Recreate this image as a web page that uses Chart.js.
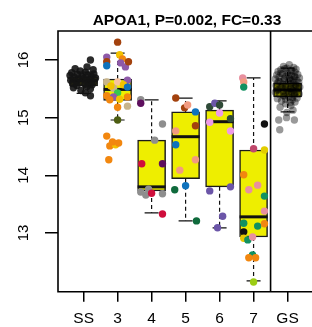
<!DOCTYPE html>
<html lang="en">
<head>
<meta charset="UTF-8">
<title>APOA1</title>
<style>
  body { margin: 0; background: #fff; }
  #wrap { width: 312px; height: 327px; }
</style>
</head>
<body>
<div id="wrap"><canvas id="myChart" width="312" height="327"></canvas></div>
<script src="https://cdnjs.cloudflare.com/ajax/libs/Chart.js/4.4.1/chart.umd.js"></script>
<script>
// groups along the x axis
var groupLabels = ['SS', '3', '4', '5', '6', '7', 'GS'];
var groupPos = [0, 1, 2, 3, 4, 5, 6];
var yTicks = [13, 14, 15, 16];

// box statistics per group
var whiskLow = [15.42, 14.96, 13.35, 13.21, 13.09, 12.17, 15.10];
var q1 = [15.55, 15.30, 13.73, 13.94, 13.80, 12.93, 15.36];
var median = [15.64, 15.49, 13.80, 14.67, 14.93, 13.28, 15.48];
var q3 = [15.71, 15.67, 14.61, 15.10, 15.13, 14.44, 15.60];
var whiskHigh = [15.79, 16.12, 15.31, 15.34, 15.29, 15.69, 15.86];

// individual samples (value + horizontal jitter in group units)
var ssValues = [16.00, 15.88, 15.85, 15.83, 15.81, 15.79, 15.78, 15.76, 15.75, 15.74, 15.73, 15.72, 15.71, 15.70, 15.69, 15.68, 15.67,
  15.66, 15.65, 15.64, 15.63, 15.62, 15.61, 15.60, 15.59, 15.58, 15.57, 15.56, 15.54, 15.52, 15.50, 15.47, 15.43, 15.38];
var ssJitter = [0.2, 0.1, -0.25, 0.28, -0.1, 0.05, -0.35, 0.3, -0.18, 0.12, -0.4, 0.22, -0.05, -0.28, 0.35, 0.0, -0.15,
  0.18, -0.38, 0.08, -0.22, 0.3, -0.1, 0.15, -0.32, 0.04, 0.25, -0.2, 0.1, -0.3, 0.2, -0.08, 0.05, 0.2];

var g3Values = [16.31, 16.09, 16.02, 16.05, 15.97, 15.90, 15.95, 15.88, 15.97, 15.62, 15.62, 15.65, 15.51, 15.55, 15.57, 15.53,
  15.43, 15.38, 15.36, 15.36, 15.32, 15.31, 15.18, 15.20, 14.96, 14.68, 14.51, 14.53, 14.56, 14.58, 14.27];
var g3Jitter = [0, 0.06, 0.14, -0.32, -0.32, -0.32, 0.09, 0.23, 0.32, -0.32, 0, 0.29, -0.12, -0.2, 0.17, 0.29,
  0, -0.32, -0.12, 0.29, 0.06, -0.23, 0, 0.29, 0, -0.32, -0.23, -0.06, 0.03, -0.15, -0.26];

var g4Values = [15.31, 15.25, 14.89, 14.61, 14.20, 14.20, 13.71, 13.76, 13.66, 13.69, 13.68, 13.33];
var g4Jitter = [-0.32, -0.32, 0.32, 0.09, -0.29, 0.32, -0.32, -0.09, -0.17, 0, 0.32, 0.32];

var g5Values = [15.34, 15.17, 15.22, 15.10, 14.86, 14.77, 14.53, 14.27, 14.09, 13.75, 13.82, 13.21];
var g5Jitter = [-0.29, -0.03, 0.06, 0.29, 0.29, -0.29, -0.29, 0.29, -0.17, -0.32, 0, 0.32];

var g6Values = [15.19, 15.25, 15.22, 15.08, 14.92, 14.98, 14.77, 13.80, 13.73, 13.29, 13.09];
var g6Jitter = [-0.29, -0.14, 0, 0, -0.29, 0.32, 0.32, 0.32, -0.29, 0.09, -0.06];

var g7Values = [15.69, 15.62, 15.53, 14.89, 14.46, 14.44, 14.01, 13.75, 13.83, 13.64, 13.38, 13.17, 13.12, 13.16, 13.02, 12.91,
  12.88, 12.93, 12.62, 12.57, 12.57, 12.15];
var g7Jitter = [-0.32, -0.29, -0.29, 0.32, 0, 0.32, -0.29, -0.14, 0.12, 0.32, 0.32, -0.29, 0.12, 0.32, -0.29, -0.29,
  -0.17, -0.03, -0.03, -0.14, 0.06, 0];

var gsValues = [15.92, 15.89, 15.87, 15.86, 15.84, 15.83, 15.81, 15.80, 15.79, 15.78,
  15.76, 15.75, 15.74, 15.73, 15.72, 15.71, 15.70, 15.69, 15.68, 15.67,
  15.66, 15.65, 15.64, 15.63, 15.62, 15.61, 15.60, 15.59, 15.58, 15.57,
  15.56, 15.55, 15.54, 15.53, 15.52, 15.51, 15.50, 15.49, 15.48, 15.47,
  15.46, 15.45, 15.44, 15.43, 15.42, 15.41, 15.40, 15.39, 15.37, 15.36,
  15.34, 15.33, 15.31, 15.29, 15.27, 15.24, 15.21, 15.18, 15.13, 15.09,
  14.96, 15.00, 14.96, 14.79,
  15.85, 15.82, 15.77, 15.74, 15.71, 15.68, 15.65, 15.63, 15.61, 15.58,
  15.55, 15.53, 15.50, 15.47, 15.45, 15.42, 15.39, 15.35, 15.32, 15.26];
var gsJitter = [0.05, -0.12, 0.18, -0.02, 0.25, -0.2, 0.1, -0.28, 0.22, 0.0,
  -0.15, 0.3, -0.32, 0.12, -0.05, 0.2, -0.25, 0.35, 0.06, -0.36,
  0.15, -0.1, 0.28, -0.22, 0.02, 0.33, -0.3, 0.1, -0.14, 0.24,
  -0.34, 0.18, -0.06, 0.36, -0.2, 0.08, 0.3, -0.28, 0.0, 0.16,
  -0.12, 0.26, -0.36, 0.12, -0.04, 0.34, -0.24, 0.2, -0.1, 0.04,
  0.28, -0.3, 0.14, -0.18, 0.22, -0.06, 0.1, -0.22, 0.16, -0.02,
  -0.26, -0.03, 0.2, -0.23,
  -0.08, 0.12, -0.2, 0.02, 0.22, -0.1, 0.08, -0.26, 0.18, -0.04,
  0.26, -0.16, 0.1, -0.3, 0.04, 0.2, -0.12, 0.14, -0.06, 0.08];

// colours
var brown = '#a3420e', gold = '#f3c200', orange = '#f2870f', purple = '#8e5aa8', blue = '#0f72bc', tan = '#c8b48a',
  peach = '#f8c49c', green = '#35c94f', olive = '#4d5e12', crimson = '#cf0e3c', dpurple = '#5e0f5e', gray = '#8e8e8e',
  salmon = '#f29a80', dgreen = '#0f6a3c', violet = '#ee9ae6', slate = '#6b55a8', dslate = '#2f4a38', pink = '#e8909f',
  rose = '#c0486c', teal = '#119160', gold2 = '#e2cd00', black = '#111111', yellow = '#e6c800', ygreen = '#9ccc14';

var ssColor = 'rgba(20,20,20,0.9)';
var gsColor = 'rgba(0,0,0,0.4)';
var g3Colors = [brown, gold, orange, purple, brown, blue, purple, purple, brown, tan, peach, purple, tan, gold, gold, blue,
  green, orange, purple, orange, gold, orange, orange, tan, olive, orange, orange, gold, orange, orange, orange];
var g4Colors = [gray, dpurple, gray, gray, crimson, dpurple, gray, gray, gray, crimson, gray, crimson];
var g5Colors = [brown, brown, salmon, blue, brown, salmon, blue, salmon, salmon, dgreen, blue, dgreen];
var g6Colors = [dslate, slate, dslate, violet, violet, dslate, violet, slate, slate, slate, slate];
var g7Colors = [pink, salmon, teal, black, rose, gold2, orange, pink, pink, teal, pink, teal, teal, orange, black, yellow,
  teal, pink, teal, orange, orange, ygreen];

function pts(pos, values, jitter) {
  return values.map(function (v, k) { return { x: pos + jitter[k], y: v }; });
}

function scatterSet(pos, values, jitter, colors) {
  return {
    type: 'scatter',
    order: 1,
    data: pts(pos, values, jitter),
    backgroundColor: colors,
    pointBackgroundColor: colors,
    pointBorderWidth: 0,
    pointRadius: 3.7,
    pointHoverRadius: 3.7
  };
}

// whiskers, caps and medians, drawn right after the boxes
var boxParts = {
  id: 'boxParts',
  afterDatasetDraw: function (chart, args) {
    if (args.index !== 0) return;
    var ctx = chart.ctx, xs = chart.scales.x, ys = chart.scales.y;
    ctx.save();
    groupPos.forEach(function (g, i) {
      var px = xs.getPixelForValue(g);
      var yLo = ys.getPixelForValue(whiskLow[i]), yHi = ys.getPixelForValue(whiskHigh[i]);
      var yQ1 = ys.getPixelForValue(q1[i]), yQ3 = ys.getPixelForValue(q3[i]);
      ctx.strokeStyle = '#111';
      ctx.lineWidth = 1.2;
      ctx.setLineDash([4, 3]);
      ctx.beginPath();
      ctx.moveTo(px, yQ3); ctx.lineTo(px, yHi);
      ctx.moveTo(px, yQ1); ctx.lineTo(px, yLo);
      ctx.stroke();
      ctx.setLineDash([]);
      ctx.beginPath();
      ctx.moveTo(px - 7, yHi); ctx.lineTo(px + 7, yHi);
      ctx.moveTo(px - 7, yLo); ctx.lineTo(px + 7, yLo);
      ctx.stroke();
      var ym = ys.getPixelForValue(median[i]);
      ctx.lineWidth = 3;
      ctx.beginPath();
      ctx.moveTo(px - 14, ym); ctx.lineTo(px + 14, ym);
      ctx.stroke();
    });
    ctx.restore();
  }
};

// frame, separator, rotated y labels and title
var frame = {
  id: 'frame',
  afterDraw: function (chart) {
    var ctx = chart.ctx, a = chart.chartArea, xs = chart.scales.x, ys = chart.scales.y;
    ctx.save();
    ctx.strokeStyle = '#000';
    ctx.lineWidth = 1.6;
    ctx.beginPath();
    ctx.moveTo(chart.width + 2, a.top); ctx.lineTo(a.left, a.top);
    ctx.lineTo(a.left, a.bottom); ctx.lineTo(chart.width + 2, a.bottom);
    var sep = xs.getPixelForValue(5.5);
    ctx.moveTo(sep, a.top); ctx.lineTo(sep, a.bottom);
    ctx.stroke();

    ctx.fillStyle = '#000';
    ctx.font = '15px "Liberation Sans", Arial, sans-serif';
    ctx.textAlign = 'center';
    ctx.textBaseline = 'alphabetic';
    yTicks.forEach(function (v) {
      ctx.save();
      ctx.translate(27.5, ys.getPixelForValue(v));
      ctx.rotate(-Math.PI / 2);
      ctx.fillText(String(v), 0, 0);
      ctx.restore();
    });

    ctx.font = 'bold 15.5px "Liberation Sans", Arial, sans-serif';
    ctx.fillText('APOA1, P=0.002, FC=0.33', 187, 25);
    ctx.restore();
  }
};

document.addEventListener('DOMContentLoaded', function () {
  var ctx = document.getElementById('myChart').getContext('2d');
  new Chart(ctx, {
    type: 'scatter',
    data: {
      datasets: [
        {
          type: 'bar',
          order: 10,
          data: groupPos.map(function (g, i) { return { x: g, y: [q1[i], q3[i]] }; }),
          backgroundColor: '#eeee00',
          borderColor: '#1a1a1a',
          borderWidth: 1.5,
          borderSkipped: false,
          barThickness: 28
        },
        scatterSet(0, ssValues, ssJitter, ssColor),
        scatterSet(1, g3Values, g3Jitter, g3Colors),
        scatterSet(2, g4Values, g4Jitter, g4Colors),
        scatterSet(3, g5Values, g5Jitter, g5Colors),
        scatterSet(4, g6Values, g6Jitter, g6Colors),
        scatterSet(5, g7Values, g7Jitter, g7Colors),
        scatterSet(6, gsValues, gsJitter, gsColor)
      ]
    },
    options: {
      responsive: false,
      animation: false,
      layout: { padding: { left: 45, top: 31, right: 0, bottom: 0 } },
      plugins: { legend: { display: false }, tooltip: { enabled: false }, title: { display: false } },
      scales: {
        x: {
          type: 'linear',
          offset: false,
          min: -0.754,
          max: 6.61,
          afterBuildTicks: function (s) { s.ticks = groupPos.map(function (v) { return { value: v }; }); },
          afterFit: function (s) { s.height = 35.3; },
          border: { display: false },
          grid: { offset: false, drawOnChartArea: false, drawTicks: true, tickLength: 10, color: '#000', lineWidth: 1.5 },
          ticks: {
            autoSkip: false,
            maxRotation: 0,
            padding: 8,
            color: '#000',
            font: { family: '"Liberation Sans", Arial, sans-serif', size: 15.5 },
            callback: function (v) { return groupLabels[groupPos.indexOf(v)]; }
          }
        },
        y: {
          type: 'linear',
          min: 11.982,
          max: 16.503,
          afterBuildTicks: function (s) { s.ticks = yTicks.map(function (v) { return { value: v }; }); },
          afterFit: function (s) { s.width = 13; },
          border: { display: false },
          grid: { drawOnChartArea: false, drawTicks: true, tickLength: 13, color: '#000', lineWidth: 1.5 },
          ticks: { display: false }
        }
      }
    },
    plugins: [boxParts, frame]
  });
});
</script>
</body>
</html>
